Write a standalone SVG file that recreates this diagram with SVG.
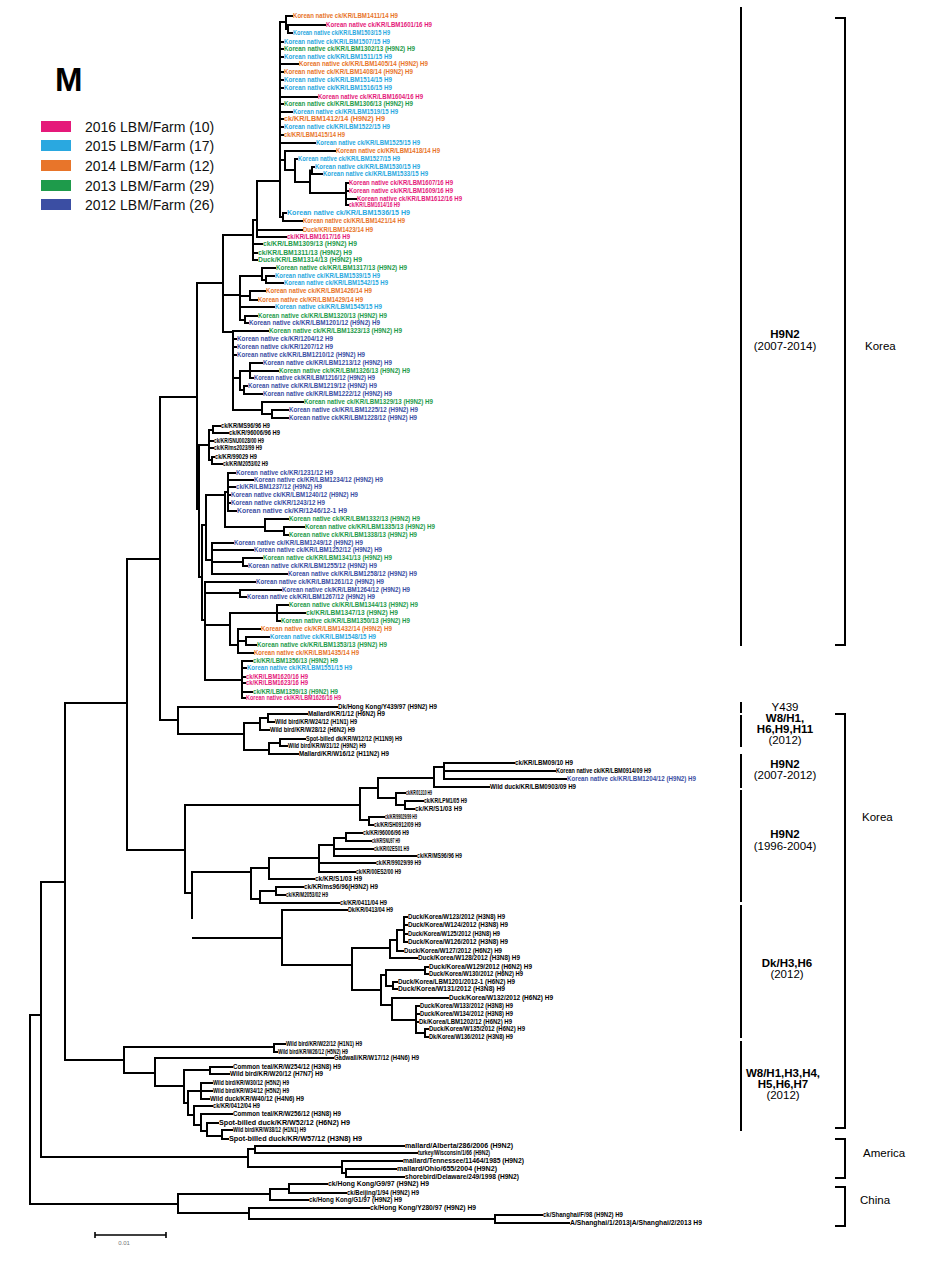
<svg xmlns="http://www.w3.org/2000/svg" width="928" height="1276" viewBox="0 0 928 1276">
<style>
.t{font-family:"Liberation Sans",Arial,sans-serif;font-size:6.5px;font-weight:bold}
.m{fill:#E5197A}.c{fill:#2AA8E0}.o{fill:#E8752A}.g{fill:#1E9B4B}.b{fill:#3B4EA3}.k{fill:#000}
.br{fill:none;stroke:#000;stroke-width:2;stroke-linecap:square}
.ann{font-family:"Liberation Sans",Arial,sans-serif;font-size:11.5px;fill:#000;text-anchor:middle}
.sb{font-weight:bold}
.lg{font-family:"Liberation Sans",Arial,sans-serif;font-size:14px;fill:#111}
</style>
<rect width="928" height="1276" fill="#fff"/>
<g id="legend">
<text x="55" y="91" font-family="Liberation Sans, Arial, sans-serif" font-size="33" font-weight="bold" fill="#000">M</text>
<rect x="41" y="121" width="30" height="11" fill="#E5197A"/>
<rect x="41" y="140" width="30" height="11" fill="#2AA8E0"/>
<rect x="41" y="160" width="30" height="11" fill="#E8752A"/>
<rect x="41" y="180" width="30" height="11" fill="#1E9B4B"/>
<rect x="41" y="199" width="30" height="11" fill="#3B4EA3"/>
<text class="lg" x="85" y="132">2016 LBM/Farm (10)</text>
<text class="lg" x="85" y="151">2015 LBM/Farm (17)</text>
<text class="lg" x="85" y="171">2014 LBM/Farm (12)</text>
<text class="lg" x="85" y="191">2013 LBM/Farm (29)</text>
<text class="lg" x="85" y="210">2012 LBM/Farm (26)</text>
</g>
<g id="connectors" class="br">
<path d="M30 1015V1204M30 1015H41M41 882V1157M41 882H65M65 703V1060M65 703H127M127 559V850M127 559H160M160 397V720M160 397H197M197 283V509M30 1204H178M41 1157H248M65 1060H124M127 850H185M160 720H178"/>
<path d="M197 283H223M223 235V332M223 235H253M253 220V260M253 220H257M257 181V237M257 181H280M280 22V217M280 22H286M286 16V29M286 16H292M286 29H288M288 25V33M288 25H325M288 33H292M280 42H283M280 49H283M280 57H283M280 64H298M280 72H283M280 80H283M280 88H283M280 97H317M280 104H283M280 112H292M280 119H283M280 127H283M280 135H283M280 143H315M280 160H285M285 151V170M285 151H335M285 170H295M295 159V182M295 159H297M295 182H310M310 170.5V193M310 170.5H312M312 167V174M312 167H314M312 174H322M310 193H346M346 183V205M346 183H348M346 191H348M346 199H356M346 205H348M280 217H283M283 213V221M283 213H286M283 221H302M257 230H302M257 237H286M253 244H262M253 253H257M253 260H257"/>
<path d="M223 295H240M240 276V320M240 276H262M262 268V280M262 268H275M262 280H266M266 276V283M266 276H274M266 283H283M240 296H250M250 291V300M250 291H265M250 300H257M240 307H274M240 320H245M245 316V323M245 316H257M245 323H248M223 332H233M233 331V410M233 331H268M233 339H236M233 347H236M233 355H236M233 378H240M240 371V390M240 371H250M250 363V378M250 363H262M250 371H278M250 378H253M240 390H244M244 386V394M244 386H247M244 394H262M233 410H262M262 402V414M262 402H303M262 414H272M272 410V418M272 410H288M272 418H288"/>
<path d="M197 509H199M199 445V577M199 445H209M209 430V460M209 430H213M213 426V433M213 426H220M213 433H228M209 441H213M209 448H213M209 460H212M212 457V464M212 457H214M212 464H222M199 577H202M202 525V620M202 525H206M206 495V560M206 495H225M225 492V527M225 492H228M228 473V511M228 473H235M228 480H253M228 487H235M228 495H230M228 503H230M228 511H236M225 527H265M265 519V531M265 519H288M265 531H284M284 527V535M284 527H304M284 535H288M206 560H212M212 543V574M212 543H233M212 550H253M212 562H243M243 558V566M243 558H262M243 566H247M212 574H287M202 620H205M205 582V680M205 582H255M205 593H240M240 590V597M240 590H281M240 597H246M205 625H230M230 613V645M230 613H277M277 605V621M277 605H288M277 613H305M277 621H280M230 645H238M238 629V653M238 629H260M238 641H246M246 637V645M246 637H269M246 645H256M238 653H253M205 680H242M242 661V698M242 661H252M242 668H246M242 677H245M242 683H245M242 692H252M242 698H245"/>
<path d="M178 707V734M178 707H337M178 734H244M244 723V750M244 723H260M260 718V730M260 718H268M268 714V722M268 714H307M268 722H274M260 730H269M244 750H269M269 743V754M269 743H280M280 739V746M280 739H305M280 746H287M269 754H298"/>
<path d="M185 805V893M185 805H360M360 788V820M360 788H378M378 778V798M378 778H434M434 767V787M434 767H444M444 763V779M444 763H514M444 771H555M444 779H566M434 787H489M378 798H396M396 793V805M396 793H405M396 805H405M405 801V809M405 801H423M405 809H414M360 820H369M369 817V825M369 817H384M369 825H373"/>
<path d="M185 893H192M192 872V918M192 872H251M251 868V899M251 868H269M269 858V879M269 858H319M319 845V872M319 845H334M334 838V856M334 838H346M346 833V841M346 833H362M346 841H371M334 849H373M334 856H416M319 863H375M319 872H355M269 879H314M251 899H260M260 891V903M260 891H276M276 887V895M276 887H303M276 895H285M260 903H339"/>
<path d="M193 938H282M282 910V965M282 910H347M282 965H352M352 948V990M352 948H390M390 940V958M390 940H397M397 930V951M397 930H404M404 917V942M404 917H407M404 925H407M404 934H407M404 942H407M397 951H403M390 958H417M352 990H381M381 975V1005M381 975H386M386 970V986M386 970H425M425 967V974M425 967H428M425 974H428M386 986H393M393 982V989M393 982H397M393 989H397M381 1005H392M392 998V1020M392 998H448M392 1020H416M416 1006V1033M416 1006H419M416 1014H419M416 1022H418M416 1033H425M425 1029V1037M425 1029H428M425 1037H428"/>
<path d="M124 1047V1073M124 1047H274M274 1044V1052M274 1044H285M274 1052H277M124 1073H155M155 1058V1086M155 1058H333M155 1086H184M184 1070V1103M184 1070H210M210 1067V1074M210 1067H232M210 1074H229M184 1103H188M188 1091V1115M188 1091H201M201 1083V1099M201 1083H212M201 1091H212M201 1099H209M188 1115H194M194 1106V1125M194 1106H212M194 1125H201M201 1114V1131M201 1114H232M201 1131H207M207 1123V1136M207 1123H218M207 1136H222M222 1130V1139M222 1130H232M222 1139H228"/>
<path d="M248 1149V1167M248 1149H255M255 1146V1153M255 1146H404M255 1153H417M248 1167H342M342 1161V1173M342 1161H402M342 1173H346M346 1169V1177M346 1169H396M346 1177H404"/>
<path d="M178 1194V1213M178 1194H270M270 1189V1200M270 1189H289M289 1184V1193M289 1184H327M289 1193H346M270 1200H308M178 1213H249M249 1208V1219M249 1208H369M249 1219H495M495 1215V1223M495 1215H542M495 1223H569"/>
</g>
<g id="clade-h9n2-2007-2014" class="t">
<text class="o" x="293" y="18.2" textLength="105" lengthAdjust="spacingAndGlyphs">Korean native ck/KR/LBM1411/14 H9</text>
<text class="m" x="326" y="27.2" textLength="106" lengthAdjust="spacingAndGlyphs">Korean native ck/KR/LBM1601/16 H9</text>
<text class="c" x="293" y="35.2" textLength="97" lengthAdjust="spacingAndGlyphs">Korean native ck/KR/LBM1503/15 H9</text>
<text class="c" x="284" y="44.2" textLength="106" lengthAdjust="spacingAndGlyphs">Korean native ck/KR/LBM1507/15 H9</text>
<text class="g" x="284" y="51.2" textLength="131" lengthAdjust="spacingAndGlyphs">Korean native ck/KR/LBM1302/13 (H9N2) H9</text>
<text class="c" x="284" y="59.2" textLength="108" lengthAdjust="spacingAndGlyphs">Korean native ck/KR/LBM1511/15 H9</text>
<text class="o" x="299" y="66.2" textLength="129" lengthAdjust="spacingAndGlyphs">Korean native ck/KR/LBM1405/14 (H9N2) H9</text>
<text class="o" x="284" y="74.2" textLength="129" lengthAdjust="spacingAndGlyphs">Korean native ck/KR/LBM1408/14 (H9N2) H9</text>
<text class="c" x="284" y="82.2" textLength="108" lengthAdjust="spacingAndGlyphs">Korean native ck/KR/LBM1514/15 H9</text>
<text class="c" x="284" y="90.2" textLength="108" lengthAdjust="spacingAndGlyphs">Korean native ck/KR/LBM1516/15 H9</text>
<text class="m" x="318" y="99.2" textLength="105" lengthAdjust="spacingAndGlyphs">Korean native ck/KR/LBM1604/16 H9</text>
<text class="g" x="284" y="106.2" textLength="129" lengthAdjust="spacingAndGlyphs">Korean native ck/KR/LBM1306/13 (H9N2) H9</text>
<text class="c" x="293" y="114.2" textLength="105" lengthAdjust="spacingAndGlyphs">Korean native ck/KR/LBM1519/15 H9</text>
<text class="o" x="284" y="121.2" textLength="101" lengthAdjust="spacingAndGlyphs">ck/KR/LBM1412/14 (H9N2) H9</text>
<text class="c" x="284" y="129.2" textLength="106" lengthAdjust="spacingAndGlyphs">Korean native ck/KR/LBM1522/15 H9</text>
<text class="o" x="284" y="137.2" textLength="61" lengthAdjust="spacingAndGlyphs">ck/KR/LBM1415/14 H9</text>
<text class="c" x="316" y="145.2" textLength="104" lengthAdjust="spacingAndGlyphs">Korean native ck/KR/LBM1525/15 H9</text>
<text class="o" x="336" y="153.2" textLength="104" lengthAdjust="spacingAndGlyphs">Korean native ck/KR/LBM1418/14 H9</text>
<text class="c" x="298" y="161.2" textLength="102" lengthAdjust="spacingAndGlyphs">Korean native ck/KR/LBM1527/15 H9</text>
<text class="c" x="315" y="169.2" textLength="105" lengthAdjust="spacingAndGlyphs">Korean native ck/KR/LBM1530/15 H9</text>
<text class="c" x="323" y="176.2" textLength="105" lengthAdjust="spacingAndGlyphs">Korean native ck/KR/LBM1533/15 H9</text>
<text class="m" x="349" y="185.2" textLength="104" lengthAdjust="spacingAndGlyphs">Korean native ck/KR/LBM1607/16 H9</text>
<text class="m" x="349" y="193.2" textLength="104" lengthAdjust="spacingAndGlyphs">Korean native ck/KR/LBM1609/16 H9</text>
<text class="m" x="357" y="201.2" textLength="105" lengthAdjust="spacingAndGlyphs">Korean native ck/KR/LBM1612/16 H9</text>
<text class="m" x="349" y="207.2" textLength="51" lengthAdjust="spacingAndGlyphs">ck/KR/LBM1614/16 H9</text>
<text class="c" x="287" y="215.2" textLength="123" lengthAdjust="spacingAndGlyphs">Korean native ck/KR/LBM1536/15 H9</text>
<text class="o" x="303" y="223.2" textLength="102" lengthAdjust="spacingAndGlyphs">Korean native ck/KR/LBM1421/14 H9</text>
<text class="o" x="303" y="232.2" textLength="70" lengthAdjust="spacingAndGlyphs">Duck/KR/LBM1423/14 H9</text>
<text class="m" x="287" y="239.2" textLength="63" lengthAdjust="spacingAndGlyphs">ck/KR/LBM1617/16 H9</text>
<text class="g" x="263" y="246.2" textLength="94" lengthAdjust="spacingAndGlyphs">ck/KR/LBM1309/13 (H9N2) H9</text>
<text class="g" x="258" y="255.2" textLength="94" lengthAdjust="spacingAndGlyphs">ck/KR/LBM1311/13 (H9N2) H9</text>
<text class="g" x="258" y="262.2" textLength="104" lengthAdjust="spacingAndGlyphs">Duck/KR/LBM1314/13 (H9N2) H9</text>
<text class="g" x="276" y="270.2" textLength="131" lengthAdjust="spacingAndGlyphs">Korean native ck/KR/LBM1317/13 (H9N2) H9</text>
<text class="c" x="275" y="278.2" textLength="105" lengthAdjust="spacingAndGlyphs">Korean native ck/KR/LBM1539/15 H9</text>
<text class="c" x="284" y="285.2" textLength="104" lengthAdjust="spacingAndGlyphs">Korean native ck/KR/LBM1542/15 H9</text>
<text class="o" x="266" y="293.2" textLength="106" lengthAdjust="spacingAndGlyphs">Korean native ck/KR/LBM1426/14 H9</text>
<text class="o" x="258" y="302.2" textLength="105" lengthAdjust="spacingAndGlyphs">Korean native ck/KR/LBM1429/14 H9</text>
<text class="c" x="275" y="309.2" textLength="107" lengthAdjust="spacingAndGlyphs">Korean native ck/KR/LBM1545/15 H9</text>
<text class="g" x="258" y="318.2" textLength="129" lengthAdjust="spacingAndGlyphs">Korean native ck/KR/LBM1320/13 (H9N2) H9</text>
<text class="b" x="249" y="325.2" textLength="131" lengthAdjust="spacingAndGlyphs">Korean native ck/KR/LBM1201/12 (H9N2) H9</text>
<text class="g" x="269" y="333.2" textLength="133" lengthAdjust="spacingAndGlyphs">Korean native ck/KR/LBM1323/13 (H9N2) H9</text>
<text class="b" x="237" y="341.2" textLength="96" lengthAdjust="spacingAndGlyphs">Korean native ck/KR/1204/12 H9</text>
<text class="b" x="237" y="349.2" textLength="96" lengthAdjust="spacingAndGlyphs">Korean native ck/KR/1207/12 H9</text>
<text class="b" x="237" y="357.2" textLength="128" lengthAdjust="spacingAndGlyphs">Korean native ck/KR/LBM1210/12 (H9N2) H9</text>
<text class="b" x="263" y="365.2" textLength="129" lengthAdjust="spacingAndGlyphs">Korean native ck/KR/LBM1213/12 (H9N2) H9</text>
<text class="g" x="279" y="373.2" textLength="131" lengthAdjust="spacingAndGlyphs">Korean native ck/KR/LBM1326/13 (H9N2) H9</text>
<text class="b" x="254" y="380.2" textLength="121" lengthAdjust="spacingAndGlyphs">Korean native ck/KR/LBM1216/12 (H9N2) H9</text>
<text class="b" x="248" y="388.2" textLength="129" lengthAdjust="spacingAndGlyphs">Korean native ck/KR/LBM1219/12 (H9N2) H9</text>
<text class="b" x="263" y="396.2" textLength="129" lengthAdjust="spacingAndGlyphs">Korean native ck/KR/LBM1222/12 (H9N2) H9</text>
<text class="g" x="304" y="404.2" textLength="129" lengthAdjust="spacingAndGlyphs">Korean native ck/KR/LBM1329/13 (H9N2) H9</text>
<text class="b" x="289" y="412.2" textLength="129" lengthAdjust="spacingAndGlyphs">Korean native ck/KR/LBM1225/12 (H9N2) H9</text>
<text class="b" x="289" y="420.2" textLength="128" lengthAdjust="spacingAndGlyphs">Korean native ck/KR/LBM1228/12 (H9N2) H9</text>
<text class="k" x="221" y="428.2" textLength="49" lengthAdjust="spacingAndGlyphs">ck/KR/MS96/96 H9</text>
<text class="k" x="229" y="435.2" textLength="51" lengthAdjust="spacingAndGlyphs">ck/KR/96006/96 H9</text>
<text class="k" x="214" y="443.2" textLength="50" lengthAdjust="spacingAndGlyphs">ck/KR/SNU0028/00 H9</text>
<text class="k" x="214" y="450.2" textLength="48" lengthAdjust="spacingAndGlyphs">ck/KR/ms2023/99 H9</text>
<text class="k" x="215" y="459.2" textLength="42" lengthAdjust="spacingAndGlyphs">ck/KR/99029 H9</text>
<text class="k" x="223" y="466.2" textLength="45" lengthAdjust="spacingAndGlyphs">ck/KR/M2053/02 H9</text>
<text class="b" x="236" y="475.2" textLength="97" lengthAdjust="spacingAndGlyphs">Korean native ck/KR/1231/12 H9</text>
<text class="b" x="254" y="482.2" textLength="129" lengthAdjust="spacingAndGlyphs">Korean native ck/KR/LBM1234/12 (H9N2) H9</text>
<text class="b" x="236" y="489.2" textLength="86" lengthAdjust="spacingAndGlyphs">ck/KR/LBM1237/12 (H9N2) H9</text>
<text class="b" x="231" y="497.2" textLength="127" lengthAdjust="spacingAndGlyphs">Korean native ck/KR/LBM1240/12 (H9N2) H9</text>
<text class="b" x="231" y="505.2" textLength="94" lengthAdjust="spacingAndGlyphs">Korean native ck/KR/1243/12 H9</text>
<text class="b" x="237" y="513.2" textLength="110" lengthAdjust="spacingAndGlyphs">Korean native ck/KR/1246/12-1 H9</text>
<text class="g" x="289" y="521.2" textLength="131" lengthAdjust="spacingAndGlyphs">Korean native ck/KR/LBM1332/13 (H9N2) H9</text>
<text class="g" x="305" y="529.2" textLength="130" lengthAdjust="spacingAndGlyphs">Korean native ck/KR/LBM1335/13 (H9N2) H9</text>
<text class="g" x="289" y="537.2" textLength="128" lengthAdjust="spacingAndGlyphs">Korean native ck/KR/LBM1338/13 (H9N2) H9</text>
<text class="b" x="234" y="545.2" textLength="129" lengthAdjust="spacingAndGlyphs">Korean native ck/KR/LBM1249/12 (H9N2) H9</text>
<text class="b" x="254" y="552.2" textLength="128" lengthAdjust="spacingAndGlyphs">Korean native ck/KR/LBM1252/12 (H9N2) H9</text>
<text class="g" x="263" y="560.2" textLength="129" lengthAdjust="spacingAndGlyphs">Korean native ck/KR/LBM1341/13 (H9N2) H9</text>
<text class="b" x="248" y="568.2" textLength="129" lengthAdjust="spacingAndGlyphs">Korean native ck/KR/LBM1255/12 (H9N2) H9</text>
<text class="b" x="288" y="576.2" textLength="129" lengthAdjust="spacingAndGlyphs">Korean native ck/KR/LBM1258/12 (H9N2) H9</text>
<text class="b" x="256" y="584.2" textLength="128" lengthAdjust="spacingAndGlyphs">Korean native ck/KR/LBM1261/12 (H9N2) H9</text>
<text class="b" x="282" y="592.2" textLength="128" lengthAdjust="spacingAndGlyphs">Korean native ck/KR/LBM1264/12 (H9N2) H9</text>
<text class="b" x="247" y="599.2" textLength="128" lengthAdjust="spacingAndGlyphs">Korean native ck/KR/LBM1267/12 (H9N2) H9</text>
<text class="g" x="289" y="607.2" textLength="129" lengthAdjust="spacingAndGlyphs">Korean native ck/KR/LBM1344/13 (H9N2) H9</text>
<text class="g" x="306" y="615.2" textLength="92" lengthAdjust="spacingAndGlyphs">ck/KR/LBM1347/13 (H9N2) H9</text>
<text class="g" x="281" y="623.2" textLength="129" lengthAdjust="spacingAndGlyphs">Korean native ck/KR/LBM1350/13 (H9N2) H9</text>
<text class="o" x="261" y="631.2" textLength="131" lengthAdjust="spacingAndGlyphs">Korean native ck/KR/LBM1432/14 (H9N2) H9</text>
<text class="c" x="270" y="639.2" textLength="106" lengthAdjust="spacingAndGlyphs">Korean native ck/KR/LBM1548/15 H9</text>
<text class="g" x="257" y="647.2" textLength="130" lengthAdjust="spacingAndGlyphs">Korean native ck/KR/LBM1353/13 (H9N2) H9</text>
<text class="o" x="254" y="655.2" textLength="105" lengthAdjust="spacingAndGlyphs">Korean native ck/KR/LBM1435/14 H9</text>
<text class="g" x="253" y="663.2" textLength="85" lengthAdjust="spacingAndGlyphs">ck/KR/LBM1356/13 (H9N2) H9</text>
<text class="c" x="247" y="670.2" textLength="105" lengthAdjust="spacingAndGlyphs">Korean native ck/KR/LBM1551/15 H9</text>
<text class="m" x="246" y="679.2" textLength="62" lengthAdjust="spacingAndGlyphs">ck/KR/LBM1620/16 H9</text>
<text class="m" x="246" y="685.2" textLength="62" lengthAdjust="spacingAndGlyphs">ck/KR/LBM1623/16 H9</text>
<text class="g" x="253" y="694.2" textLength="85" lengthAdjust="spacingAndGlyphs">ck/KR/LBM1359/13 (H9N2) H9</text>
<text class="m" x="246" y="700.2" textLength="95" lengthAdjust="spacingAndGlyphs">Korean native ck/KR/LBM1626/16 H9</text>
</g>
<g id="clade-y439" class="t k">
<text x="338" y="709.2" textLength="99" lengthAdjust="spacingAndGlyphs">Dk/Hong Kong/Y439/97 (H9N2) H9</text>
</g>
<g id="clade-w8-h1-h6-h9-h11" class="t k">
<text x="308" y="716.2" textLength="77" lengthAdjust="spacingAndGlyphs">Mallard/KR/1/12 (H6N2) H9</text>
<text x="275" y="724.2" textLength="82" lengthAdjust="spacingAndGlyphs">Wild bird/KR/W24/12 (H1N1) H9</text>
<text x="270" y="732.2" textLength="85" lengthAdjust="spacingAndGlyphs">Wild bird/KR/W28/12 (H6N2) H9</text>
<text x="306" y="741.2" textLength="96" lengthAdjust="spacingAndGlyphs">Spot-billed dk/KR/W12/12 (H11N9) H9</text>
<text x="288" y="748.2" textLength="78" lengthAdjust="spacingAndGlyphs">Wild bird/KR/W31/12 (H9N2) H9</text>
<text x="299" y="756.2" textLength="90" lengthAdjust="spacingAndGlyphs">Mallard/KR/W16/12 (H11N2) H9</text>
</g>
<g id="clade-h9n2-2007-2012" class="t k">
<text x="515" y="765.2" textLength="58" lengthAdjust="spacingAndGlyphs">ck/KR/LBM09/10 H9</text>
<text x="556" y="773.2" textLength="95" lengthAdjust="spacingAndGlyphs">Korean native ck/KR/LBM0914/09 H9</text>
<text class="b" x="567" y="781.2" textLength="129" lengthAdjust="spacingAndGlyphs">Korean native ck/KR/LBM1204/12 (H9N2) H9</text>
<text x="490" y="789.2" textLength="86" lengthAdjust="spacingAndGlyphs">Wild duck/KR/LBM0903/09 H9</text>
</g>
<g id="clade-h9n2-1996-2004" class="t k">
<text x="406" y="795.2" textLength="26" lengthAdjust="spacingAndGlyphs">ck/KR/01310 H9</text>
<text x="424" y="803.2" textLength="43" lengthAdjust="spacingAndGlyphs">ck/KR/LPM1/05 H9</text>
<text x="415" y="811.2" textLength="47" lengthAdjust="spacingAndGlyphs">ck/KR/S1/03 H9</text>
<text x="385" y="819.2" textLength="32" lengthAdjust="spacingAndGlyphs">ck/KR/99029/99 H9</text>
<text x="374" y="827.2" textLength="47" lengthAdjust="spacingAndGlyphs">ck/KR/SH0912/09 H9</text>
<text x="363" y="835.2" textLength="46" lengthAdjust="spacingAndGlyphs">ck/KR/96006/96 H9</text>
<text x="372" y="843.2" textLength="28" lengthAdjust="spacingAndGlyphs">ck/KR/SNU97 H9</text>
<text x="374" y="851.2" textLength="35" lengthAdjust="spacingAndGlyphs">ck/KR/02ES01 H9</text>
<text x="417" y="858.2" textLength="45" lengthAdjust="spacingAndGlyphs">ck/KR/MS96/96 H9</text>
<text x="376" y="865.2" textLength="45" lengthAdjust="spacingAndGlyphs">ck/KR/99029/99 H9</text>
<text x="356" y="874.2" textLength="45" lengthAdjust="spacingAndGlyphs">ck/KR/00ES2/00 H9</text>
<text x="315" y="881.2" textLength="47" lengthAdjust="spacingAndGlyphs">ck/KR/S1/03 H9</text>
<text x="304" y="889.2" textLength="74" lengthAdjust="spacingAndGlyphs">ck/KR/ms96/96(H9N2) H9</text>
<text x="286" y="897.2" textLength="42" lengthAdjust="spacingAndGlyphs">ck/KR/M2053/02 H9</text>
<text x="340" y="905.2" textLength="47" lengthAdjust="spacingAndGlyphs">ck/KR/0411/04 H9</text>
</g>
<g id="clade-dk-h3-h6" class="t k">
<text x="348" y="912.2" textLength="45" lengthAdjust="spacingAndGlyphs">Dk/KR/0413/04 H9</text>
<text x="408" y="919.2" textLength="97" lengthAdjust="spacingAndGlyphs">Duck/Korea/W123/2012 (H3N8) H9</text>
<text x="408" y="927.2" textLength="100" lengthAdjust="spacingAndGlyphs">Duck/Korea/W124/2012 (H3N8) H9</text>
<text x="408" y="936.2" textLength="92" lengthAdjust="spacingAndGlyphs">Duck/Korea/W125/2012 (H3N8) H9</text>
<text x="408" y="944.2" textLength="100" lengthAdjust="spacingAndGlyphs">Duck/Korea/W126/2012 (H3N8) H9</text>
<text x="404" y="953.2" textLength="98" lengthAdjust="spacingAndGlyphs">Duck/Korea/W127/2012 (H6N2) H9</text>
<text x="418" y="960.2" textLength="102" lengthAdjust="spacingAndGlyphs">Duck/Korea/W128/2012 (H3N8) H9</text>
<text x="429" y="969.2" textLength="103" lengthAdjust="spacingAndGlyphs">Duck/Korea/W129/2012 (H6N2) H9</text>
<text x="429" y="976.2" textLength="94" lengthAdjust="spacingAndGlyphs">Duck/Korea/W130/2012 (H6N2) H9</text>
<text x="398" y="984.2" textLength="117" lengthAdjust="spacingAndGlyphs">Duck/Korea/LBM1201/2012-1 (H6N2) H9</text>
<text x="398" y="991.2" textLength="107" lengthAdjust="spacingAndGlyphs">Duck/Korea/W131/2012 (H3N8) H9</text>
<text x="449" y="1000.2" textLength="104" lengthAdjust="spacingAndGlyphs">Duck/Korea/W132/2012 (H6N2) H9</text>
<text x="420" y="1008.2" textLength="93" lengthAdjust="spacingAndGlyphs">Duck/Korea/W133/2012 (H3N8) H9</text>
<text x="420" y="1016.2" textLength="93" lengthAdjust="spacingAndGlyphs">Duck/Korea/W134/2012 (H3N8) H9</text>
<text x="419" y="1024.2" textLength="93" lengthAdjust="spacingAndGlyphs">Dk/Korea/LBM1202/12 (H6N2) H9</text>
<text x="429" y="1031.2" textLength="96" lengthAdjust="spacingAndGlyphs">Duck/Korea/W135/2012 (H6N2) H9</text>
<text x="429" y="1039.2" textLength="84" lengthAdjust="spacingAndGlyphs">Dk/Korea/W136/2012 (H3N8) H9</text>
</g>
<g id="clade-w8-h1-h3-h4-h5-h6-h7" class="t k">
<text x="286" y="1046.2" textLength="76" lengthAdjust="spacingAndGlyphs">Wild bird/KR/W22/12 (H1N1) H9</text>
<text x="278" y="1054.2" textLength="70" lengthAdjust="spacingAndGlyphs">Wild bird/KR/W26/12 (H5N2) H9</text>
<text x="334" y="1060.2" textLength="85" lengthAdjust="spacingAndGlyphs">Gadwall/KR/W17/12 (H4N6) H9</text>
<text x="233" y="1069.2" textLength="108" lengthAdjust="spacingAndGlyphs">Common teal/KR/W254/12 (H3N8) H9</text>
<text x="230" y="1076.2" textLength="93" lengthAdjust="spacingAndGlyphs">Wild bird/KR/W20/12 (H7N7) H9</text>
<text x="213" y="1085.2" textLength="76" lengthAdjust="spacingAndGlyphs">Wild bird/KR/W30/12 (H5N2) H9</text>
<text x="213" y="1093.2" textLength="76" lengthAdjust="spacingAndGlyphs">Wild bird/KR/W34/12 (H5N2) H9</text>
<text x="210" y="1101.2" textLength="94" lengthAdjust="spacingAndGlyphs">Wild duck/KR/W40/12 (H4N6) H9</text>
<text x="213" y="1108.2" textLength="47" lengthAdjust="spacingAndGlyphs">ck/KR/0412/04 H9</text>
<text x="233" y="1116.2" textLength="108" lengthAdjust="spacingAndGlyphs">Common teal/KR/W256/12 (H3N8) H9</text>
<text x="219" y="1125.2" textLength="131" lengthAdjust="spacingAndGlyphs">Spot-billed duck/KR/W52/12 (H6N2) H9</text>
<text x="233" y="1132.2" textLength="73" lengthAdjust="spacingAndGlyphs">Wild bird/KR/W38/12 (H1N1) H9</text>
<text x="229" y="1141.2" textLength="133" lengthAdjust="spacingAndGlyphs">Spot-billed duck/KR/W57/12 (H3N8) H9</text>
</g>
<g id="clade-america" class="t k">
<text x="405" y="1148.2" textLength="108" lengthAdjust="spacingAndGlyphs">mallard/Alberta/286/2006 (H9N2)</text>
<text x="418" y="1155.2" textLength="72" lengthAdjust="spacingAndGlyphs">turkey/Wisconsin/1/66 (H9N2)</text>
<text x="403" y="1163.2" textLength="121" lengthAdjust="spacingAndGlyphs">mallard/Tennessee/11464/1985 (H9N2)</text>
<text x="397" y="1171.2" textLength="100" lengthAdjust="spacingAndGlyphs">mallard/Ohio/655/2004 (H9N2)</text>
<text x="405" y="1179.2" textLength="114" lengthAdjust="spacingAndGlyphs">shorebird/Delaware/249/1998 (H9N2)</text>
</g>
<g id="clade-china" class="t k">
<text x="328" y="1186.2" textLength="101" lengthAdjust="spacingAndGlyphs">ck/Hong Kong/G9/97 (H9N2) H9</text>
<text x="347" y="1195.2" textLength="72" lengthAdjust="spacingAndGlyphs">ck/Beijing/1/94 (H9N2) H9</text>
<text x="309" y="1202.2" textLength="93" lengthAdjust="spacingAndGlyphs">ck/Hong Kong/G1/97 (H9N2) H9</text>
<text x="370" y="1210.2" textLength="106" lengthAdjust="spacingAndGlyphs">ck/Hong Kong/Y280/97 (H9N2) H9</text>
<text x="543" y="1217.2" textLength="80" lengthAdjust="spacingAndGlyphs">ck/Shanghai/F/98 (H9N2) H9</text>
<text x="570" y="1225.2" textLength="132" lengthAdjust="spacingAndGlyphs">A/Shanghai/1/2013|A/Shanghai/2/2013 H9</text>
</g>
<g id="annotations">
<path class="br" d="M741 8V645M741 703V712M741 716V746M741 755V787M741 791V901M741 906V1037M741 1042V1130"/>
<path class="br" d="M836 18H845V645H836M836 714H845V1128H836M836 1139H845V1178H836M836 1187H845V1226H836"/>
<text class="ann sb" x="785" y="338">H9N2</text>
<text class="ann" x="785" y="350">(2007-2014)</text>
<text class="ann" x="865" y="350" style="text-anchor:start">Korea</text>
<text class="ann" x="785" y="711">Y439</text>
<text class="ann sb" x="785" y="722">W8/H1,</text>
<text class="ann sb" x="785" y="733">H6,H9,H11</text>
<text class="ann" x="785" y="744">(2012)</text>
<text class="ann sb" x="785" y="768">H9N2</text>
<text class="ann" x="785" y="779">(2007-2012)</text>
<text class="ann sb" x="785" y="838">H9N2</text>
<text class="ann" x="785" y="850">(1996-2004)</text>
<text class="ann" x="862" y="821" style="text-anchor:start">Korea</text>
<text class="ann sb" x="787" y="967">Dk/H3,H6</text>
<text class="ann" x="787" y="978">(2012)</text>
<text class="ann sb" x="783" y="1077">W8/H1,H3,H4,</text>
<text class="ann sb" x="783" y="1088">H5,H6,H7</text>
<text class="ann" x="783" y="1099">(2012)</text>
<text class="ann" x="863" y="1157" style="text-anchor:start">America</text>
<text class="ann" x="860" y="1204" style="text-anchor:start">China</text>
</g>
<g id="scale-bar">
<path d="M95 1235H166M95 1232V1238M166 1232V1238" fill="none" stroke="#000" stroke-width="1.6"/>
<text x="124" y="1245" font-family="Liberation Sans, Arial, sans-serif" font-size="6" fill="#777" text-anchor="middle">0.01</text>
</g>
</svg>
